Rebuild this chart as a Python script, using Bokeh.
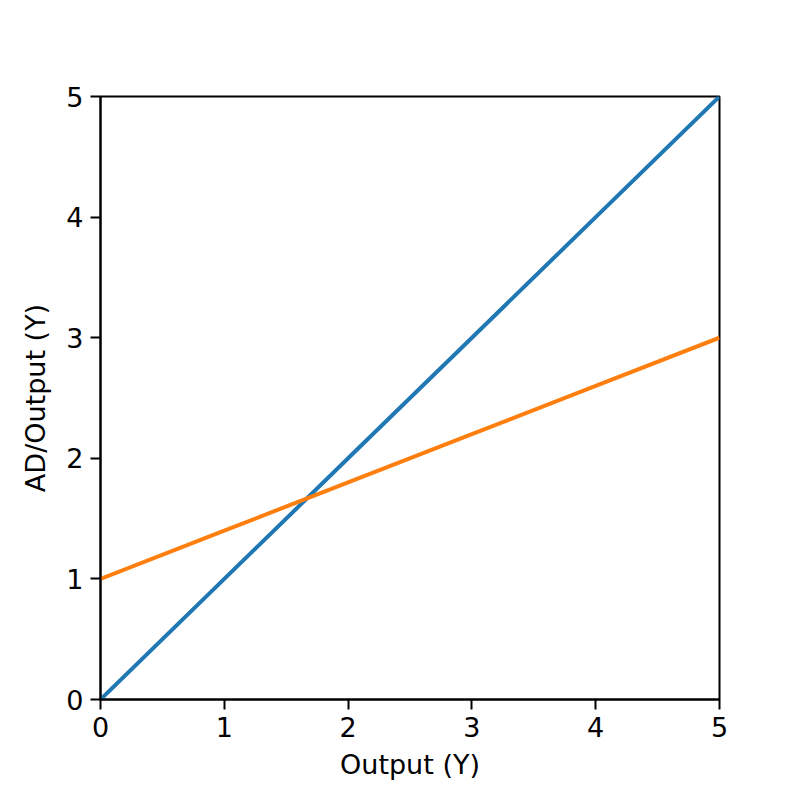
import numpy as np
from bokeh.plotting import figure
from bokeh.models import Range1d, FixedTicker
from bokeh.embed import file_html
from bokeh.resources import INLINE

# data
x_vals = [0, 1, 2, 3, 4, 5]
output_line = [0, 1, 2, 3, 4, 5]
ad_line = [1.0, 1.4, 1.8, 2.2, 2.6, 3.0]
ticks = [0, 1, 2, 3, 4, 5]

W, H = 784, 784
p = figure(width=W, height=H, output_backend="svg", toolbar_location=None,
           x_range=Range1d(0, 5), y_range=Range1d(0, 5),
           min_border_left=100, min_border_right=65, min_border_top=96, min_border_bottom=85)
p.background_fill_color = "white"
p.border_fill_color = "white"
p.outline_line_color = "black"
p.outline_line_width = 2
p.grid.visible = False

p.line(x_vals, output_line, line_color="#1f77b4", line_width=4)
p.line(x_vals, ad_line, line_color="#ff7f0e", line_width=4)

for ax in (p.xaxis[0], p.yaxis[0]):
    ax.ticker = FixedTicker(ticks=ticks)
    ax.minor_tick_line_color = None
    ax.major_tick_out = 10
    ax.major_tick_in = 0
    ax.major_tick_line_width = 2
    ax.axis_line_width = 2
    ax.major_label_text_font = "DejaVu Sans"
    ax.major_label_text_font_size = "27px"
    ax.major_label_text_color = "black"
    ax.axis_label_text_font = "DejaVu Sans"
    ax.axis_label_text_font_size = "27px"
    ax.axis_label_text_font_style = "normal"
    ax.axis_label_text_color = "black"
    ax.major_label_standoff = 7

p.xaxis.axis_label = "Output (Y)"
p.yaxis.axis_label = "AD/Output (Y)"
p.xaxis.axis_label_standoff = 9
p.yaxis.axis_label_standoff = 12
p.yaxis.major_label_orientation = "horizontal"

open("out.html", "w").write(file_html(p, INLINE))
